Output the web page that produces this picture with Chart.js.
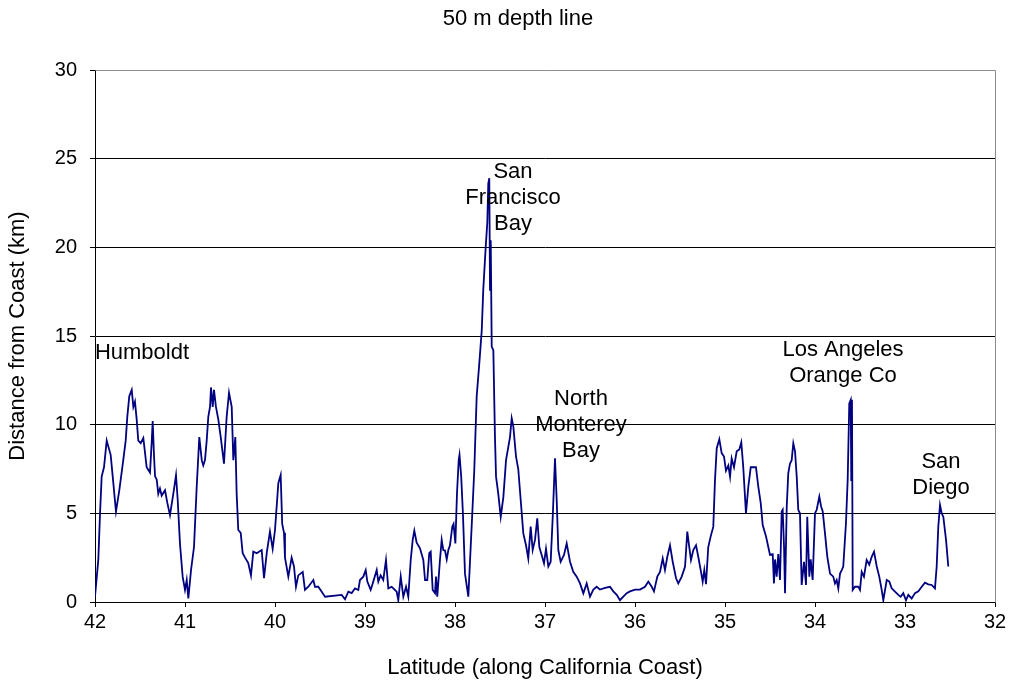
<!DOCTYPE html>
<html>
<head>
<meta charset="utf-8">
<script src="https://cdn.jsdelivr.net/npm/chart.js@4/dist/chart.umd.min.js"></script>
<style>
html,body{margin:0;padding:0;background:#fff;}
#wrap{width:1011px;height:685px;position:relative;}
</style>
</head>
<body>
<div id="wrap"><canvas id="c"></canvas></div>
<script>
const chartTitle = '50 m depth line';
const xAxisTitle = 'Latitude (along California Coast)';
const yAxisTitle = 'Distance from Coast (km)';
const xTicks = [42, 41, 40, 39, 38, 37, 36, 35, 34, 33, 32];
const yTicks = [0, 5, 10, 15, 20, 25, 30];

// [latitude, distance from coast (km)]
const profile = [
[42.000,0.3],[41.963,2.4],[41.944,5.0],[41.926,7.07],[41.900,7.6],[41.870,9.1],[41.826,8.3],[41.803,7.07],
[41.767,5.1],[41.730,6.3],[41.686,8.0],[41.659,9.1],[41.641,10.45],[41.619,11.6],[41.592,11.96],[41.574,11.0],
[41.556,11.3],[41.537,10.3],[41.519,9.1],[41.492,8.96],[41.463,9.25],[41.426,7.6],[41.389,7.3],[41.370,9.0],
[41.359,10.2],[41.344,8.2],[41.333,7.1],[41.314,6.9],[41.297,6.1],[41.278,6.4],[41.259,6.0],[41.222,6.3],
[41.197,5.6],[41.167,4.9],[41.130,6.1],[41.100,7.15],[41.081,5.75],[41.056,3.3],[41.026,1.43],[41.000,0.68],
[40.981,1.24],[40.963,0.2],[40.933,1.8],[40.900,3.1],[40.870,6.5],[40.841,9.3],[40.814,8.0],[40.797,7.7],
[40.778,8.0],[40.759,9.1],[40.741,10.45],[40.722,11.0],[40.711,12.1],[40.692,11.0],[40.678,11.96],[40.656,11.0],
[40.630,10.3],[40.603,9.3],[40.567,7.8],[40.537,10.45],[40.511,11.8],[40.481,11.0],[40.463,8.0],[40.441,9.3],
[40.426,6.1],[40.408,4.06],[40.381,3.9],[40.359,2.75],[40.333,2.5],[40.297,2.2],[40.267,1.5],[40.241,2.84],
[40.203,2.75],[40.148,2.93],[40.122,1.34],[40.092,2.75],[40.056,3.97],[40.026,3.0],[40.000,4.06],[39.963,6.7],
[39.937,7.16],[39.920,4.4],[39.900,3.9],[39.889,2.5],[39.852,1.43],[39.815,2.5],[39.789,2.0],[39.767,0.86],
[39.741,1.5],[39.692,1.7],[39.667,0.68],[39.630,0.86],[39.574,1.24],[39.556,0.86],[39.519,0.86],[39.481,0.58],
[39.444,0.3],[39.259,0.4],[39.222,0.15],[39.185,0.58],[39.148,0.5],[39.111,0.77],[39.074,0.68],[39.056,1.24],
[39.019,1.43],[38.992,1.8],[38.974,1.15],[38.937,0.68],[38.908,1.15],[38.870,1.8],[38.852,1.15],[38.826,1.5],
[38.797,1.24],[38.767,2.37],[38.741,0.77],[38.703,0.86],[38.648,0.58],[38.630,0.1],[38.603,1.43],[38.574,0.3],
[38.544,0.86],[38.519,0.3],[38.492,2.37],[38.470,3.5],[38.452,4.02],[38.426,3.35],[38.389,3.03],[38.352,2.37],
[38.333,1.24],[38.308,1.24],[38.286,2.75],[38.270,2.84],[38.248,0.68],[38.222,0.5],[38.211,1.43],[38.197,0.3],
[38.167,2.37],[38.148,3.5],[38.130,2.93],[38.111,2.9],[38.092,2.4],[38.074,2.93],[38.056,3.2],[38.030,4.25],
[38.016,4.4],[37.996,3.3],[37.978,6.1],[37.959,8.0],[37.950,8.3],[37.931,7.07],[37.912,5.0],[37.889,1.6],
[37.852,0.3],[37.815,4.25],[37.786,7.4],[37.759,11.6],[37.730,13.46],[37.703,15.3],[37.686,17.6],[37.659,20.0],
[37.641,21.4],[37.630,23.6],[37.619,23.9],[37.611,17.6],[37.603,20.4],[37.592,14.4],[37.574,14.2],[37.556,9.3],
[37.544,7.07],[37.519,6.1],[37.492,4.8],[37.463,5.9],[37.433,8.0],[37.389,9.3],[37.370,10.36],[37.352,9.9],
[37.322,8.2],[37.297,7.5],[37.270,5.75],[37.241,3.87],[37.211,3.2],[37.186,2.46],[37.159,4.25],[37.137,2.93],
[37.111,3.5],[37.086,4.72],[37.063,3.1],[37.037,2.65],[37.011,2.18],[36.989,3.0],[36.963,2.0],[36.937,2.27],
[36.914,4.8],[36.889,8.1],[36.870,5.75],[36.852,2.93],[36.826,2.27],[36.789,2.65],[36.759,3.3],[36.722,2.27],
[36.686,1.7],[36.648,1.43],[36.611,1.05],[36.574,0.49],[36.537,1.05],[36.500,0.3],[36.463,0.7],[36.426,0.86],
[36.389,0.7],[36.333,0.8],[36.278,0.86],[36.241,0.6],[36.203,0.4],[36.167,0.1],[36.130,0.3],[36.092,0.5],
[36.056,0.6],[36.000,0.7],[35.944,0.7],[35.889,0.86],[35.852,1.15],[35.814,0.86],[35.789,0.6],[35.752,1.43],
[35.722,1.7],[35.692,2.46],[35.667,1.8],[35.641,2.55],[35.611,3.2],[35.581,2.27],[35.544,1.34],[35.519,1.05],
[35.481,1.43],[35.444,2.0],[35.419,3.97],[35.397,3.1],[35.378,2.37],[35.352,2.93],[35.322,3.2],[35.297,2.55],
[35.270,1.8],[35.248,1.15],[35.230,1.8],[35.211,1.0],[35.186,3.1],[35.159,3.7],[35.130,4.25],[35.111,6.9],
[35.092,8.67],[35.063,9.18],[35.037,8.4],[35.011,8.2],[34.989,7.4],[34.963,7.7],[34.944,7.07],[34.926,8.1],
[34.900,7.6],[34.870,8.5],[34.841,8.6],[34.819,9.0],[34.797,7.6],[34.767,5.0],[34.741,6.5],[34.714,7.6],
[34.656,7.6],[34.630,6.5],[34.603,5.57],[34.581,4.34],[34.544,3.7],[34.519,3.1],[34.500,2.66],[34.470,2.7],
[34.456,1.05],[34.444,2.4],[34.426,1.43],[34.408,2.7],[34.389,1.24],[34.370,5.1],[34.359,5.2],[34.344,3.1],
[34.333,0.49],[34.314,5.4],[34.297,7.25],[34.278,7.8],[34.259,8.0],[34.241,8.95],[34.222,8.5],[34.203,7.07],
[34.186,5.2],[34.167,5.0],[34.148,0.96],[34.122,2.27],[34.100,0.96],[34.086,4.8],[34.063,1.43],[34.048,2.4],
[34.026,1.24],[34.000,5.0],[33.981,5.2],[33.952,5.94],[33.933,5.4],[33.914,5.1],[33.889,3.87],[33.863,2.55],
[33.833,1.6],[33.797,1.43],[33.778,1.05],[33.759,1.24],[33.741,0.77],[33.722,1.6],[33.703,1.8],[33.686,2.0],
[33.656,4.44],[33.637,6.88],[33.619,11.2],[33.603,11.4],[33.597,6.88],[33.589,11.4],[33.581,0.68],[33.556,0.86],
[33.519,0.86],[33.500,0.68],[33.481,1.7],[33.456,1.43],[33.426,2.37],[33.397,2.1],[33.370,2.55],[33.344,2.84],
[33.314,2.0],[33.286,1.43],[33.259,0.68],[33.241,0.1],[33.203,1.24],[33.174,1.15],[33.148,0.77],[33.111,0.58],
[33.074,0.4],[33.048,0.3],[33.019,0.5],[32.989,0.1],[32.963,0.4],[32.926,0.2],[32.889,0.5],[32.852,0.6],
[32.814,0.86],[32.778,1.09],[32.741,1.0],[32.703,0.96],[32.667,0.77],[32.648,2.0],[32.630,4.25],[32.611,5.47],
[32.592,5.0],[32.574,4.8],[32.544,3.5],[32.519,2.0]
];

// place labels: text lines, anchored (first line centre) at latitude / km
const placeNames = [
  ['Humboldt'],
  ['San', 'Francisco', 'Bay'],
  ['North', 'Monterey', 'Bay'],
  ['Los Angeles', 'Orange Co'],
  ['San', 'Diego']
];
const placeLat = [41.478, 37.356, 36.600, 33.689, 32.600];
const placeKm  = [14.04, 24.25, 11.45, 14.21, 7.90];

const FONT = "'Liberation Sans', Arial, sans-serif";
Chart.defaults.font.family = FONT;
Chart.defaults.color = '#000';

const textPlugin = {
  id: 'texts',
  afterDraw(chart) {
    const {ctx, chartArea: a, scales: {x, y}} = chart;
    ctx.save();
    // gray top/right frame
    ctx.strokeStyle = '#8c8c8c';
    ctx.lineWidth = 1;
    ctx.beginPath();
    ctx.moveTo(Math.round(a.left) + 0.5, Math.round(a.top) + 0.5);
    ctx.lineTo(Math.round(a.right) + 0.5, Math.round(a.top) + 0.5);
    ctx.lineTo(Math.round(a.right) + 0.5, Math.round(a.bottom) + 0.5);
    ctx.stroke();
    ctx.fillStyle = '#000';
    ctx.textAlign = 'center';
    ctx.textBaseline = 'middle';
    ctx.font = '22px ' + FONT;
    ctx.fillText(chartTitle, 518, 19);
    placeNames.forEach((lines, i) => {
      const px = x.getPixelForValue(placeLat[i]);
      const py = y.getPixelForValue(placeKm[i]);
      lines.forEach((t, j) => ctx.fillText(t, px, py + j * 26));
    });
    ctx.restore();
  }
};

new Chart(document.getElementById('c'), {
  type: 'scatter',
  data: {
    datasets: [{
      data: profile.map(p => ({x: p[0], y: p[1]})),
      showLine: true,
      borderColor: '#000080',
      backgroundColor: '#000080',
      borderWidth: 1.8,
      pointRadius: 0,
      tension: 0
    }]
  },
  options: {
    responsive: true,
    maintainAspectRatio: false,
    animation: false,
    devicePixelRatio: 1,
    layout: {padding: {top: 70, left: 0, right: 16, bottom: 0}},
    plugins: {legend: {display: false}, title: {display: false}, tooltip: {enabled: false}},
    scales: {
      x: {
        type: 'linear', reverse: true, min: 32, max: 42,
        afterBuildTicks: s => { s.ticks = xTicks.map(v => ({value: v})); },
        afterFit: s => { s.height = 83; },
        ticks: {font: {size: 20}, color: '#000', padding: 3, maxRotation: 0, autoSkip: false},
        grid: {drawOnChartArea: false, drawTicks: true, tickLength: 5, color: '#000'},
        border: {display: true, color: '#000', width: 1},
        title: {display: true, text: xAxisTitle, font: {size: 22}, color: '#000', padding: {top: 0, bottom: 4}}
      },
      y: {
        min: 0, max: 30,
        afterBuildTicks: s => { s.ticks = yTicks.map(v => ({value: v})); },
        afterFit: s => { s.width = 95; },
        ticks: {font: {size: 20}, color: '#000', padding: 13},
        grid: {color: c => (c.tick && c.tick.value === 30) ? '#8c8c8c' : '#000', tickColor: '#000', tickLength: 5, lineWidth: 1},
        border: {display: true, color: '#000', width: 1},
        title: {display: true, text: yAxisTitle, font: {size: 22}, color: '#000', padding: {top: 5, bottom: 0}}
      }
    }
  },
  plugins: [textPlugin]
});
</script>
</body>
</html>
